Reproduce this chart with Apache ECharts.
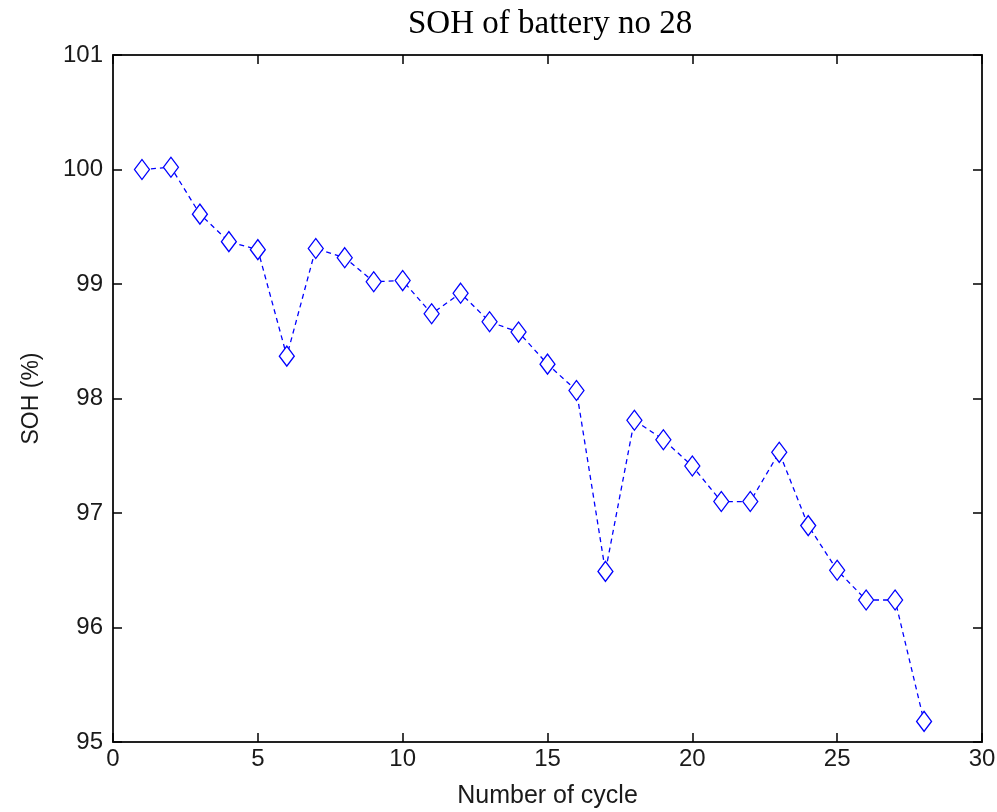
<!doctype html>
<html lang="en">
<head>
    <meta charset="utf-8">
    <title>SOH of battery no 28</title>
    <script src="https://cdn.jsdelivr.net/npm/echarts@6/dist/echarts.min.js"></script>
    <style>
        html, body { margin: 0; padding: 0; background: #fff; }
    </style>
</head>
<body>

<div id="main" style="width:997px;height:812px;"></div>

<script>

    // cycle numbers and SOH values
    var cycles = [1, 2, 3, 4, 5, 6, 7, 8, 9, 10, 11, 12, 13, 14, 15, 16, 17, 18, 19, 20, 21, 22, 23, 24, 25, 26, 27, 28];
    var soh = [100.00, 100.02, 99.61, 99.37, 99.30, 98.37, 99.31, 99.23, 99.02, 99.03,
               98.74, 98.92, 98.67, 98.58, 98.30, 98.07, 96.49, 97.81, 97.64, 97.41,
               97.10, 97.10, 97.53, 96.89, 96.50, 96.24, 96.24, 95.18];

    var xRange = [0, 30, 5];   // min, max, step
    var yRange = [95, 101, 1];

    var points = [];
    for (var i = 0; i < cycles.length; i++) {
        points.push([cycles[i], soh[i]]);
    }

    var myChart = echarts.init(document.getElementById('main'));

    var labelFont = {
        fontFamily: 'Liberation Sans',
        fontSize: 24,
        color: '#1a1a1a'
    };
    var tickStyle = { show: true, inside: true, length: 9, lineStyle: { color: '#000', width: 1.5 } };
    // onZero off, otherwise the mirrored y axis jumps to x = 0
    var lineStyle = { show: true, onZero: false, lineStyle: { color: '#222', width: 2 } };

    var option = {
        backgroundColor: '#fff',
        animation: false,
        title: {
            text: 'SOH of battery no 28',
            left: 403,
            top: 3,
            textStyle: {
                fontFamily: 'Liberation Serif',
                fontWeight: 'normal',
                fontSize: 33,
                color: '#000'
            }
        },
        grid: {
            left: 113,
            right: 15,
            top: 55,
            bottom: 70,
            containLabel: false,
            outerBoundsMode: 'none'   // keep the box where it is, labels may sit near the edge
        },
        xAxis: [{
            type: 'value',
            min: xRange[0],
            max: xRange[1],
            interval: xRange[2],
            name: 'Number of cycle',
            nameLocation: 'middle',
            nameGap: 42,
            nameTextStyle: { fontFamily: 'Liberation Sans', fontSize: 25, color: '#1a1a1a' },
            axisLine: lineStyle,
            axisTick: tickStyle,
            axisLabel: Object.assign({ margin: 5 }, labelFont),
            splitLine: { show: false }
        }, {
            type: 'value',
            position: 'top',
            min: xRange[0],
            max: xRange[1],
            interval: xRange[2],
            axisLine: lineStyle,
            axisTick: tickStyle,
            axisLabel: { show: false },
            splitLine: { show: false }
        }],
        yAxis: [{
            type: 'value',
            min: yRange[0],
            max: yRange[1],
            interval: yRange[2],
            name: 'SOH (%)',
            nameLocation: 'middle',
            nameGap: 70,
            nameTextStyle: { fontFamily: 'Liberation Sans', fontSize: 23, color: '#1a1a1a' },
            axisLine: lineStyle,
            axisTick: tickStyle,
            axisLabel: Object.assign({ margin: 10 }, labelFont),
            splitLine: { show: false }
        }, {
            type: 'value',
            position: 'right',
            min: yRange[0],
            max: yRange[1],
            interval: yRange[2],
            axisLine: lineStyle,
            axisTick: tickStyle,
            axisLabel: { show: false },
            splitLine: { show: false }
        }],
        series: [{
            type: 'line',
            data: points,
            symbol: 'diamond',
            symbolSize: [15, 20],
            showAllSymbol: true,
            lineStyle: {
                color: '#0000ff',
                width: 1.3,
                type: [5, 4]
            },
            itemStyle: {
                color: '#fff',
                borderColor: '#0000ff',
                borderWidth: 1.3
            }
        }]
    };

    myChart.setOption(option);

</script>
</body>
</html>
